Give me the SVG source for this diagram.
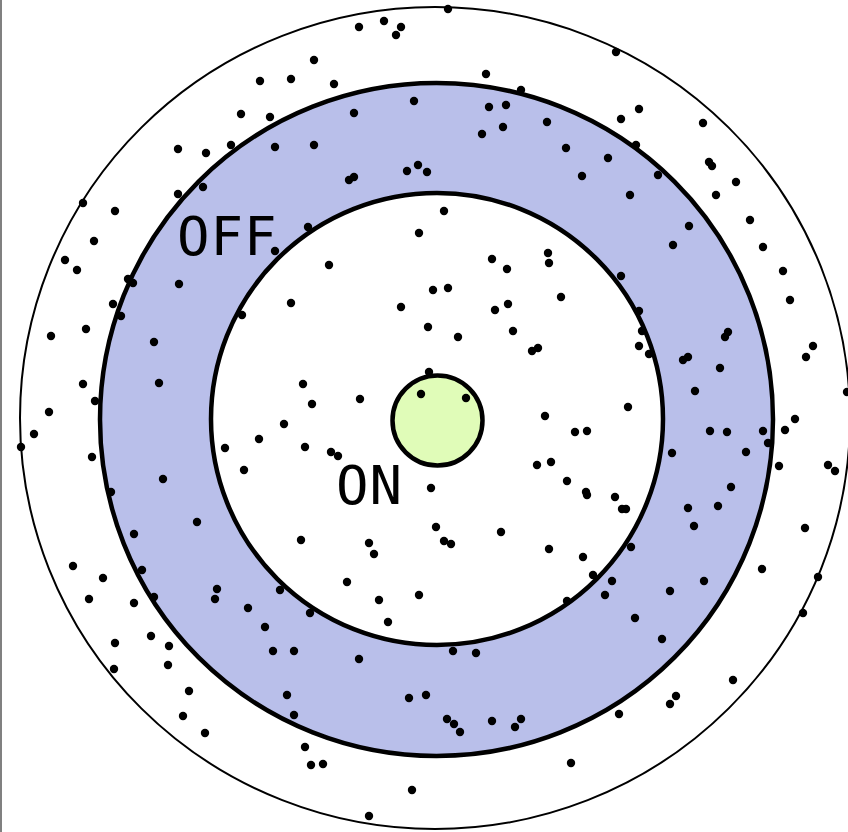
<svg xmlns="http://www.w3.org/2000/svg" width="848" height="832" viewBox="0 0 848 832">
<style>
.d{fill:#000}
.lbl{font-family:"DejaVu Sans Mono",monospace;font-size:54px;letter-spacing:1px;fill:#000}
</style>
<rect x="0" y="0" width="848" height="832" fill="#fff"/>
<line x1="1" y1="0" x2="1" y2="832" stroke="#808080" stroke-width="2"/>
<g id="outer"><ellipse cx="435" cy="418" rx="415" ry="411" fill="#fff" stroke="#000" stroke-width="2"/></g>
<g id="off-ring"><circle cx="436.5" cy="419.5" r="336.5" fill="#b9bfea" stroke="#000" stroke-width="4.5"/></g>
<g id="inner"><circle cx="437" cy="419" r="226" fill="#fff" stroke="#000" stroke-width="4.5"/></g>
<g id="on-core"><circle cx="437.5" cy="420.5" r="45" fill="#e0fcb8" stroke="#000" stroke-width="4.5"/></g>
<g id="dots" class="d">
<circle cx="178" cy="149" r="4.2"/><circle cx="206" cy="153" r="4.2"/><circle cx="178" cy="194" r="4.2"/><circle cx="203" cy="187" r="4.2"/>
<circle cx="83" cy="203" r="4.2"/><circle cx="115" cy="211" r="4.2"/><circle cx="94" cy="241" r="4.2"/><circle cx="65" cy="260" r="4.2"/>
<circle cx="77" cy="270" r="4.2"/>
<circle cx="359" cy="27" r="4.2"/><circle cx="384" cy="21" r="4.2"/><circle cx="401" cy="27" r="4.2"/><circle cx="396" cy="35" r="4.2"/>
<circle cx="314" cy="60" r="4.2"/><circle cx="260" cy="81" r="4.2"/><circle cx="291" cy="79" r="4.2"/><circle cx="334" cy="84" r="4.2"/>
<circle cx="241" cy="114" r="4.2"/><circle cx="270" cy="117" r="4.2"/><circle cx="414" cy="101" r="4.2"/><circle cx="354" cy="113" r="4.2"/>
<circle cx="231" cy="145" r="4.2"/><circle cx="275" cy="147" r="4.2"/><circle cx="314" cy="145" r="4.2"/><circle cx="418" cy="165" r="4.2"/>
<circle cx="407" cy="171" r="4.2"/><circle cx="427" cy="172" r="4.2"/><circle cx="349" cy="180" r="4.2"/><circle cx="354" cy="177" r="4.2"/>
<circle cx="308" cy="227" r="4.2"/><circle cx="275" cy="251" r="4.2"/><circle cx="419" cy="233" r="4.2"/><circle cx="329" cy="265" r="4.2"/>
<circle cx="448" cy="9" r="4.2"/><circle cx="616" cy="52" r="4.2"/><circle cx="486" cy="74" r="4.2"/><circle cx="521" cy="90" r="4.2"/>
<circle cx="489" cy="107" r="4.2"/><circle cx="506" cy="105" r="4.2"/><circle cx="503" cy="127" r="4.2"/><circle cx="482" cy="134" r="4.2"/>
<circle cx="547" cy="122" r="4.2"/><circle cx="621" cy="119" r="4.2"/><circle cx="639" cy="109" r="4.2"/><circle cx="566" cy="148" r="4.2"/>
<circle cx="608" cy="158" r="4.2"/><circle cx="582" cy="176" r="4.2"/><circle cx="630" cy="195" r="4.2"/><circle cx="444" cy="211" r="4.2"/>
<circle cx="492" cy="259" r="4.2"/><circle cx="507" cy="269" r="4.2"/><circle cx="548" cy="253" r="4.2"/><circle cx="549" cy="263" r="4.2"/>
<circle cx="621" cy="276" r="4.2"/>
<circle cx="703" cy="123" r="4.2"/><circle cx="636" cy="145" r="4.2"/><circle cx="709" cy="162" r="4.2"/><circle cx="712" cy="166" r="4.2"/>
<circle cx="658" cy="175" r="4.2"/><circle cx="736" cy="182" r="4.2"/><circle cx="716" cy="195" r="4.2"/><circle cx="750" cy="220" r="4.2"/>
<circle cx="689" cy="226" r="4.2"/><circle cx="673" cy="245" r="4.2"/><circle cx="763" cy="247" r="4.2"/><circle cx="783" cy="271" r="4.2"/>
<circle cx="128" cy="279" r="4.2"/><circle cx="133" cy="283" r="4.2"/><circle cx="179" cy="284" r="4.2"/><circle cx="113" cy="304" r="4.2"/>
<circle cx="121" cy="316" r="4.2"/><circle cx="86" cy="329" r="4.2"/><circle cx="51" cy="336" r="4.2"/><circle cx="154" cy="342" r="4.2"/>
<circle cx="83" cy="384" r="4.2"/><circle cx="159" cy="383" r="4.2"/><circle cx="95" cy="401" r="4.2"/><circle cx="49" cy="412" r="4.2"/>
<circle cx="34" cy="434" r="4.2"/><circle cx="21" cy="447" r="4.2"/><circle cx="92" cy="457" r="4.2"/><circle cx="163" cy="479" r="4.2"/>
<circle cx="111" cy="492" r="4.2"/><circle cx="197" cy="522" r="4.2"/><circle cx="134" cy="534" r="4.2"/>
<circle cx="291" cy="303" r="4.2"/><circle cx="242" cy="315" r="4.2"/><circle cx="401" cy="307" r="4.2"/><circle cx="303" cy="384" r="4.2"/>
<circle cx="312" cy="404" r="4.2"/><circle cx="360" cy="399" r="4.2"/><circle cx="421" cy="394" r="4.2"/><circle cx="284" cy="424" r="4.2"/>
<circle cx="259" cy="439" r="4.2"/><circle cx="225" cy="448" r="4.2"/><circle cx="305" cy="447" r="4.2"/><circle cx="331" cy="452" r="4.2"/>
<circle cx="338" cy="456" r="4.2"/><circle cx="244" cy="470" r="4.2"/><circle cx="301" cy="540" r="4.2"/><circle cx="369" cy="543" r="4.2"/>
<circle cx="374" cy="554" r="4.2"/>
<circle cx="433" cy="290" r="4.2"/><circle cx="448" cy="288" r="4.2"/><circle cx="561" cy="297" r="4.2"/><circle cx="495" cy="310" r="4.2"/>
<circle cx="508" cy="304" r="4.2"/><circle cx="428" cy="327" r="4.2"/><circle cx="458" cy="337" r="4.2"/><circle cx="513" cy="331" r="4.2"/>
<circle cx="532" cy="351" r="4.2"/><circle cx="538" cy="348" r="4.2"/><circle cx="429" cy="372" r="4.2"/><circle cx="466" cy="398" r="4.2"/>
<circle cx="628" cy="407" r="4.2"/><circle cx="545" cy="416" r="4.2"/><circle cx="575" cy="432" r="4.2"/><circle cx="587" cy="431" r="4.2"/>
<circle cx="537" cy="465" r="4.2"/><circle cx="551" cy="462" r="4.2"/><circle cx="567" cy="481" r="4.2"/><circle cx="586" cy="492" r="4.2"/>
<circle cx="587" cy="495" r="4.2"/><circle cx="615" cy="497" r="4.2"/><circle cx="622" cy="509" r="4.2"/><circle cx="626" cy="509" r="4.2"/>
<circle cx="431" cy="488" r="4.2"/><circle cx="436" cy="527" r="4.2"/><circle cx="444" cy="541" r="4.2"/><circle cx="451" cy="544" r="4.2"/>
<circle cx="501" cy="532" r="4.2"/><circle cx="549" cy="549" r="4.2"/><circle cx="583" cy="557" r="4.2"/><circle cx="631" cy="547" r="4.2"/>
<circle cx="639" cy="311" r="4.2"/><circle cx="642" cy="331" r="4.2"/><circle cx="639" cy="346" r="4.2"/><circle cx="649" cy="354" r="4.2"/>
<circle cx="790" cy="300" r="4.2"/><circle cx="728" cy="332" r="4.2"/><circle cx="725" cy="337" r="4.2"/><circle cx="813" cy="346" r="4.2"/>
<circle cx="806" cy="357" r="4.2"/><circle cx="688" cy="357" r="4.2"/><circle cx="683" cy="360" r="4.2"/><circle cx="720" cy="368" r="4.2"/>
<circle cx="695" cy="391" r="4.2"/><circle cx="847" cy="392" r="4.2"/><circle cx="795" cy="419" r="4.2"/><circle cx="785" cy="430" r="4.2"/>
<circle cx="710" cy="431" r="4.2"/><circle cx="727" cy="432" r="4.2"/><circle cx="763" cy="431" r="4.2"/><circle cx="768" cy="443" r="4.2"/>
<circle cx="672" cy="453" r="4.2"/><circle cx="746" cy="452" r="4.2"/><circle cx="779" cy="466" r="4.2"/><circle cx="828" cy="465" r="4.2"/>
<circle cx="835" cy="471" r="4.2"/><circle cx="731" cy="487" r="4.2"/><circle cx="688" cy="508" r="4.2"/><circle cx="718" cy="506" r="4.2"/>
<circle cx="694" cy="526" r="4.2"/><circle cx="805" cy="528" r="4.2"/>
<circle cx="73" cy="566" r="4.2"/><circle cx="103" cy="578" r="4.2"/><circle cx="89" cy="599" r="4.2"/><circle cx="134" cy="603" r="4.2"/>
<circle cx="142" cy="570" r="4.2"/><circle cx="154" cy="597" r="4.2"/><circle cx="215" cy="599" r="4.2"/><circle cx="115" cy="643" r="4.2"/>
<circle cx="151" cy="636" r="4.2"/><circle cx="169" cy="646" r="4.2"/><circle cx="114" cy="669" r="4.2"/><circle cx="168" cy="665" r="4.2"/>
<circle cx="189" cy="691" r="4.2"/><circle cx="183" cy="716" r="4.2"/><circle cx="205" cy="733" r="4.2"/>
<circle cx="347" cy="582" r="4.2"/><circle cx="419" cy="595" r="4.2"/><circle cx="379" cy="600" r="4.2"/><circle cx="388" cy="622" r="4.2"/>
<circle cx="217" cy="589" r="4.2"/><circle cx="280" cy="590" r="4.2"/><circle cx="248" cy="608" r="4.2"/><circle cx="310" cy="613" r="4.2"/>
<circle cx="265" cy="627" r="4.2"/><circle cx="273" cy="651" r="4.2"/><circle cx="294" cy="651" r="4.2"/><circle cx="359" cy="659" r="4.2"/>
<circle cx="287" cy="695" r="4.2"/><circle cx="294" cy="715" r="4.2"/><circle cx="409" cy="698" r="4.2"/><circle cx="426" cy="695" r="4.2"/>
<circle cx="305" cy="747" r="4.2"/><circle cx="311" cy="765" r="4.2"/><circle cx="323" cy="764" r="4.2"/><circle cx="412" cy="790" r="4.2"/>
<circle cx="369" cy="816" r="4.2"/>
<circle cx="593" cy="575" r="4.2"/><circle cx="612" cy="581" r="4.2"/><circle cx="605" cy="595" r="4.2"/><circle cx="567" cy="601" r="4.2"/>
<circle cx="635" cy="618" r="4.2"/><circle cx="453" cy="651" r="4.2"/><circle cx="476" cy="653" r="4.2"/><circle cx="447" cy="719" r="4.2"/>
<circle cx="454" cy="724" r="4.2"/><circle cx="460" cy="732" r="4.2"/><circle cx="492" cy="721" r="4.2"/><circle cx="515" cy="727" r="4.2"/>
<circle cx="521" cy="719" r="4.2"/><circle cx="619" cy="714" r="4.2"/><circle cx="571" cy="763" r="4.2"/>
<circle cx="762" cy="569" r="4.2"/><circle cx="818" cy="577" r="4.2"/><circle cx="803" cy="613" r="4.2"/><circle cx="704" cy="581" r="4.2"/>
<circle cx="670" cy="591" r="4.2"/><circle cx="662" cy="639" r="4.2"/><circle cx="733" cy="680" r="4.2"/><circle cx="676" cy="696" r="4.2"/>
<circle cx="670" cy="704" r="4.2"/>
</g>
<g id="labels">
<text class="lbl" x="177" y="255">OFF</text>
<text class="lbl" x="336" y="504">ON</text>
</g>
</svg>
